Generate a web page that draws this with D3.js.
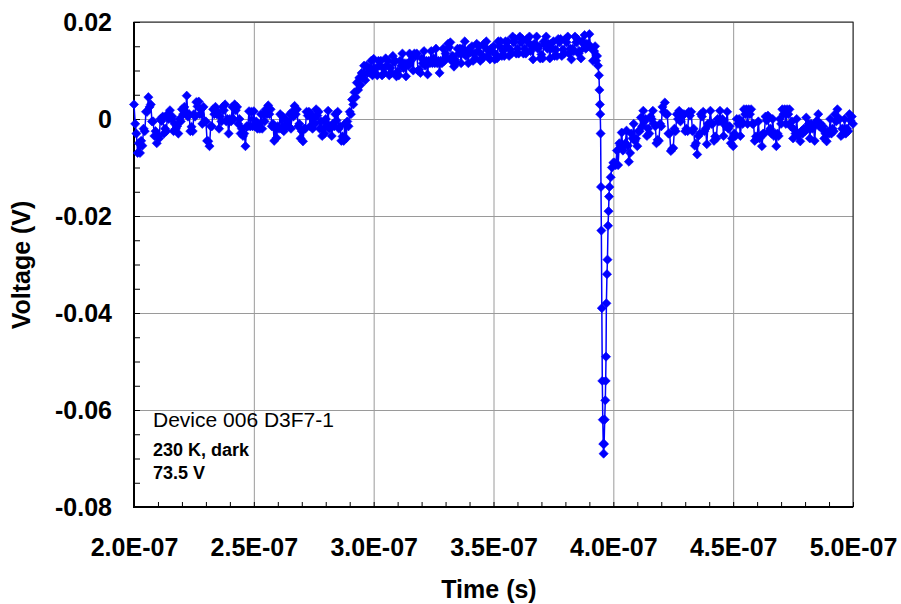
<!DOCTYPE html>
<html>
<head>
<meta charset="utf-8">
<script src="https://cdn.jsdelivr.net/npm/d3@7"></script>
<style>
  html, body { margin: 0; padding: 0; background: #fff; }
  svg { display: block; font-family: Arial, "Liberation Sans", sans-serif; }
</style>
</head>
<body>
<svg id="chart" width="901" height="604"></svg>
<script>
// Transient voltage trace, Device 006 D3F7-1 (230 K, dark, 73.5 V)

// Samples before the spike: 0.5 ns apart starting at 200 ns, values in mV
const preStartNs = 200;
const preStepNs = 0.5;
const preMilliVolts = [
  3, -1, -3, -7, -5, -7, -4.5, -5.5, -2, -2.5,
  1.5, 1.5, 4.5, 2.5, 3, -0.5, -0.5, -3.5, -2.5, -5,
  -3.6, -4, 0, -0.4, 0.5, -3, -2, -2.5, 1, 0,
  1.8, 0, 0.5, -2.5, -1, -2, -1.5, -3, 0, -0.5,
  2, 1, 2.5, 1.5, 4.8, 0.5, 1, -2.5, -1.6, -2.5,
  1, 0.5, 3.5, 2.6, 3.6, 1, 2, -1, 2.5, -0.5,
  -0.5, -4.5, -4.6, -5.6, -1.5, -1.5, 2, 1, 2.5, 1,
  1.5, -2, 0.5, -0.5, 2.5, 1.8, 3, -0.5, 0, -3,
  0, -0.5, 2.5, 0, 3, 1.8, 2.5, -1, 0, -3,
  -2, -3.5, -3, -5.6, -1.5, -1.5, 1.6, -1.5, 1.5, -1.5,
  1.6, -1.5, -0.5, -2, -1, -2, 1, -2, 1, -0.5,
  2, 1, 2.8, 1, 2, -1.5, -1, -4.5, -2, -3.9,
  -1.5, -2, 1, -2, 0.5, -2.5, 0, -1.5, -0.5, -1.5,
  1, -2, 1.5, 0.5, 2.7, 1, 2, -1.5, -1, -4,
  -2.5, -4.6, -2, -2, 1.5, 0.7, 1.5, -1.5, 1, -2,
  0, -1, 2, 0.7, 1.5, -2, -0.5, -3.5, -2, -3,
  0, -1, 1.7, -2, -1.5, -3.5, -1, -1.5, 1, -0.3,
  1.5, -2, -1.5, -4.5, -3.6, -4.5, -1, -4, -0.5, -1.5,
  1.5, 1, 4, 3, 5.5, 4.5, 7.5, 6, 8.5, 7,
  9.5, 8.5, 11, 8, 11, 9.5, 10.5, 9.5, 12, 9,
  12.4, 9.5, 10.5, 9, 12, 11, 12, 9, 10.5, 9.5,
  12.5, 11, 12, 9, 10.5, 9.5, 13, 11.7, 12, 8.8,
  9.8, 9, 12, 11, 13.5, 10.5, 11.5, 8.8, 11.5, 11,
  13.5, 12, 13, 10, 13.5, 13, 13.5, 10, 10.2, 9.5,
  12.5, 11.5, 14, 11, 12, 9.2, 12, 11.5, 14, 11.5,
  12.5, 11.5, 14.5, 11.5, 12, 9.5, 12, 11.5, 14.5, 12,
  13.5, 12.5, 15.5, 14.8, 15.8, 12, 13, 10.8, 12.2, 11.5,
  14.5, 13.5, 14.5, 11.5, 14.5, 13.5, 16, 13, 14, 11.5,
  14.5, 13.7, 15, 12, 13.5, 12.5, 15.5, 14, 15, 12,
  13.3, 12.5, 15.5, 14.8, 16, 13, 14, 12.3, 14.5, 14,
  15, 12.3, 13.3, 12.5, 16, 15, 16, 13, 14, 13,
  16, 15, 16, 13, 14.3, 13.5, 17, 15.8, 16.5, 13.5,
  14.5, 13.5, 17, 15.8, 16.5, 13.5, 14.5, 13.5, 16.5, 15.8,
  17, 14, 15, 12.3, 15.5, 15, 17, 14.5, 15, 12.5,
  13.3, 12.5, 16, 15.5, 17, 14.5, 15.5, 12.5, 15.5, 14.5,
  16, 13, 14.3, 13, 16.5, 15.8, 16.5, 13, 14.3, 13.5,
  16.5, 15.8, 17, 13.5, 14.5, 12.3, 14.5, 14, 17, 15.8,
  16.5, 13.5, 14, 12.5, 16, 15.5, 17.3, 14.5, 15.5, 15,
  17.5, 15, 14.5, 12
];

// Negative spike, finer sampling (ns, mV)
const spikeNs = [
  392, 392.4, 392.8, 393.2, 393.6, 394, 394.2, 394.4, 394.55, 394.7,
  394.85, 395, 395.2, 395.4, 395.6, 395.8, 395.95, 396.15, 396.4, 396.65,
  396.8, 396.95, 397.1, 397.35, 397.55, 397.8, 398, 398.2, 398.4, 398.9,
  399.4, 400
];
const spikeMilliVolts = [
  14, 15, 12, 13, 11, 9, 6, 3, 1, -3,
  -14, -23, -39, -54, -62, -67, -69, -67, -62, -58,
  -54, -49, -38, -32, -29, -22, -19, -16, -14, -12,
  -10, -9
];

// Recovery after the spike: 0.5 ns apart starting at 400.5 ns, values in mV
const postStartNs = 400.5;
const postStepNs = 0.5;
const postMilliVolts = [
  -9, -9.5, -6.5, -9.5, -5, -5.5, -2.8, -6.5, -5.5, -5,
  -2.4, -5.5, -8.8, -7, -3, -4, -1, -4.5, -4, -5.6,
  -2.5, -2.5, 0.3, -1.5, 1.7, -0.5, 0, -3.5, -2, -3,
  0.5, 0, 1.7, -1, -1.5, -5, -4.3, -4.5, -1, -1.5,
  2.5, 1.5, 3.4, 1, 1, -3, -3, -6.6, -6.2, -6,
  -2, -2.5, 1, 0, 1.7, -0.5, 1, 0.7, 1, -2.5,
  -2, -2.5, 1.5, 0.7, 1.5, -2.5, -2, -5.5, -5, -7.3,
  -3.5, -3, 1, 0.5, 1.5, -2.5, -2, -5.2, -1, -1,
  1.7, -1, -1, -4.5, -3.6, -4, 0, -0.5, 1.7, -0.5,
  0, -3.5, -1, -1.5, 1.5, -2, -1.5, -5, -4, -5.6,
  -3, -3.5, 0, -1, 0, -3.5, -0.5, -1, 2, 1,
  2, -1, 2, 1, 2, -1, -1, -4.5, -3.6, -4,
  -0.5, -4, -3.5, -5.6, -3, -3, 0.5, -0.3, 0.7, -2.5,
  -2, -3, 0, -3.5, -3, -5.6, -3, -3.5, 0, -1,
  2, 1, 2, -1, 2, 1, 2, -1.5, -0.5, -4,
  -2.2, -3, 0, -3.5, -3, -4.6, -2.5, -3, -2, -2.5,
  0.3, -2, -1, -4, -1, -2, -1.5, -4.5, -1, -0.3,
  1, -1.5, -1, -2, -1.5, -4, -3, -4.6, -2.5, -3,
  0, -3, -2, -2.5, 1, -0.5, 2, 0, 0, -3.5,
  -2, -3, 0, -3, -2, -2.5, 1, -0.3, 0.5, -1
];

// Axis ticks and labels
const xTickValues = [2.0e-7, 2.5e-7, 3.0e-7, 3.5e-7, 4.0e-7, 4.5e-7, 5.0e-7];
const xTickLabels = ["2.0E-07", "2.5E-07", "3.0E-07", "3.5E-07", "4.0E-07", "4.5E-07", "5.0E-07"];
const yTickValues = [0.02, 0, -0.02, -0.04, -0.06, -0.08];
const yTickLabels = ["0.02", "0", "-0.02", "-0.04", "-0.06", "-0.08"];
const annotationLines = ["Device 006 D3F7-1", "230 K, dark", "73.5 V"];

// Assemble the trace in seconds / volts
const trace = [];
preMilliVolts.forEach((mv, i) => trace.push({ t: (preStartNs + i * preStepNs) * 1e-9, v: mv / 1000 }));
spikeNs.forEach((ns, i) => trace.push({ t: ns * 1e-9, v: spikeMilliVolts[i] / 1000 }));
postMilliVolts.forEach((mv, i) => trace.push({ t: (postStartNs + i * postStepNs) * 1e-9, v: mv / 1000 }));

const svg = d3.select("#chart");
const margin = { left: 134, top: 22, right: 48, bottom: 97 };
const W = 901 - margin.left - margin.right;   // 719
const H = 604 - margin.top - margin.bottom;   // 485

const x = d3.scaleLinear().domain([2.0e-7, 5.0e-7]).range([0, W]);
const y = d3.scaleLinear().domain([-0.08, 0.02]).range([H, 0]);

const g = svg.append("g").attr("transform", `translate(${margin.left},${margin.top})`);

// Grid lines
g.append("g")
  .attr("transform", `translate(0,${H})`)
  .call(d3.axisBottom(x).tickValues(xTickValues).tickSize(-H).tickFormat(""))
  .call(s => s.select(".domain").remove())
  .call(s => s.selectAll("line").attr("stroke", "#9a9a9a").attr("stroke-width", 1));
g.append("g")
  .call(d3.axisLeft(y).tickValues(yTickValues).tickSize(-W).tickFormat(""))
  .call(s => s.select(".domain").remove())
  .call(s => s.selectAll("line").attr("stroke", "#9a9a9a").attr("stroke-width", 1));

// Plot frame (top / right)
g.append("rect")
  .attr("x", 0).attr("y", 0).attr("width", W).attr("height", H)
  .attr("fill", "none").attr("stroke", "#222").attr("stroke-width", 1);

// Inward minor ticks
const xMinor = d3.range(200, 501, 10).map(n => n * 1e-9);
const yMinor = d3.range(-80, 21, 5).map(n => n / 1000);
g.append("g")
  .attr("transform", `translate(0,${H})`)
  .call(d3.axisBottom(x).tickValues(xMinor).tickSize(-5).tickFormat(""))
  .call(s => s.select(".domain").remove())
  .call(s => s.selectAll("line").attr("stroke", "#000"));
g.append("g")
  .call(d3.axisLeft(y).tickValues(yMinor).tickSize(-6).tickFormat(""))
  .call(s => s.select(".domain").remove())
  .call(s => s.selectAll("line").attr("stroke", "#000"));

// Tick labels
const xAxis = g.append("g")
  .attr("transform", `translate(0,${H})`)
  .call(d3.axisBottom(x).tickValues(xTickValues).tickSize(0).tickPadding(31)
    .tickFormat((d, i) => xTickLabels[i]));
xAxis.select(".domain").remove();
xAxis.selectAll("text")
  .attr("font-size", 25).attr("font-weight", "bold").attr("fill", "#000")
  .attr("font-family", "Arial, 'Liberation Sans', sans-serif");

const yAxis = g.append("g")
  .call(d3.axisLeft(y).tickValues(yTickValues).tickSize(0).tickPadding(22)
    .tickFormat((d, i) => yTickLabels[i]));
yAxis.select(".domain").remove();
yAxis.selectAll("text")
  .attr("font-size", 25).attr("font-weight", "bold").attr("fill", "#000")
  .attr("font-family", "Arial, 'Liberation Sans', sans-serif");

// Main axis lines (left / bottom)
g.append("line").attr("x1", 0).attr("x2", 0).attr("y1", 0).attr("y2", H + 1)
  .attr("stroke", "#000").attr("stroke-width", 2);
g.append("line").attr("x1", -1).attr("x2", W).attr("y1", H).attr("y2", H)
  .attr("stroke", "#000").attr("stroke-width", 2);

// Trace line
const line = d3.line().x(d => x(d.t)).y(d => y(d.v));
g.append("path")
  .datum(trace)
  .attr("d", line)
  .attr("fill", "none")
  .attr("stroke", "#0000ff")
  .attr("stroke-width", 1.5);

// Diamond markers
const r = 4.6;
g.append("g")
  .selectAll("path")
  .data(trace)
  .join("path")
  .attr("transform", d => `translate(${x(d.t)},${y(d.v)})`)
  .attr("d", `M0,${-r}L${r},0L0,${r}L${-r},0Z`)
  .attr("fill", "#0000ff")
  .attr("stroke", "#0000ff")
  .attr("stroke-width", 0.6);

// Axis titles
svg.append("text")
  .attr("x", 489).attr("y", 598)
  .attr("text-anchor", "middle")
  .attr("font-size", 25).attr("font-weight", "bold")
  .text("Time (s)");
svg.append("text")
  .attr("transform", "translate(30,265) rotate(-90)")
  .attr("text-anchor", "middle")
  .attr("font-size", 25).attr("font-weight", "bold")
  .text("Voltage (V)");

// Annotation
svg.append("text").attr("x", 153).attr("y", 427)
  .attr("font-size", 21).text(annotationLines[0]);
svg.append("text").attr("x", 153).attr("y", 456)
  .attr("font-size", 18).attr("font-weight", "bold").text(annotationLines[1]);
svg.append("text").attr("x", 153).attr("y", 479)
  .attr("font-size", 18).attr("font-weight", "bold").text(annotationLines[2]);
</script>
</body>
</html>
